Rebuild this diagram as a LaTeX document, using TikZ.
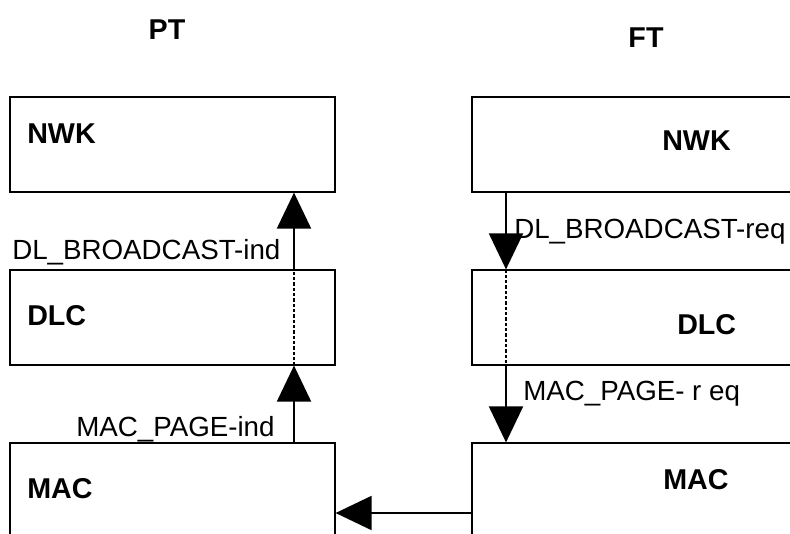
\documentclass[tikz,border=0pt]{standalone}
\usepackage{fontspec}
\setmainfont{Liberation Sans}
\usetikzlibrary{arrows.meta}

\tikzset{
  layer/.style={draw, line width=0.9pt, minimum width=243.75pt, minimum height=71.25pt, inner sep=0pt},
  layertxt/.style={font=\fontsize{21.5}{25}\selectfont\bfseries, inner sep=0pt, anchor=base west},
  primtxt/.style={font=\fontsize{20.8}{25}\selectfont, inner sep=0pt, anchor=base west},
  sig/.style={line width=1.5pt, -{Triangle[length=27pt, width=25.5pt]}},
  thru/.style={line width=1.1pt, dash pattern=on 2.5pt off 1.5pt}
}

\begin{document}
\begin{tikzpicture}[x=0.75pt,y=-0.75pt]
\clip (0,0) rectangle (790,533);
%----PT side-----------------------------------
\node[layer] (nwkL) at (172.5,144.5) {};
\node[layer] (dlcL) at (172.5,317.5) {};
\node[layer] (macL) at (172.5,490.5) {};
%----FT side-----------------------------------
\node[layer] (nwkR) at (634.5,144.5) {};
\node[layer] (dlcR) at (634.5,317.5) {};
\node[layer] (macR) at (634.5,490.5) {};
%----texts-------------------------------------
\node[layertxt, anchor=base] (pt) at (167,39) {PT};
\node[layertxt, anchor=base] (ft) at (646,47) {FT};
\node[layertxt] (nwkLtxt) at (27,143) {NWK};
\node[layertxt] (dlcLtxt) at (27,325) {DLC};
\node[layertxt] (macLtxt) at (27,498) {MAC};
\node[layertxt] (nwkRtxt) at (662,150) {NWK};
\node[layertxt] (dlcRtxt) at (677,334) {DLC};
\node[layertxt] (macRtxt) at (663,489) {MAC};
\node[primtxt] (bcind) at (12,259) {DL\_BROADCAST-ind};
\node[primtxt] (bcreq) at (514,238) {DL\_BROADCAST-req};
\node[primtxt] (pgind) at (76,436) {MAC\_PAGE-ind};
\node[primtxt] (pgreq) at (523,400) {MAC\_PAGE- r eq};
%----primitives--------------------------------
\coordinate (upL) at (294,0);
\coordinate (dnR) at (506,0);
\coordinate (air) at (0,513);
\draw[sig] (upL |- macL.north) -- (upL |- dlcL.south);
\draw[thru] (upL |- dlcL.south) -- (upL |- dlcL.north);
\draw[sig] (upL |- dlcL.north) -- (upL |- nwkL.south);
\draw[sig] (dnR |- nwkR.south) -- (dnR |- dlcR.north);
\draw[thru] (dnR |- dlcR.north) -- (dnR |- dlcR.south);
\draw[sig] (dnR |- dlcR.south) -- (dnR |- macR.north);
\draw[sig] (macR.west |- air) -- (macL.east |- air);
\end{tikzpicture}
\end{document}
